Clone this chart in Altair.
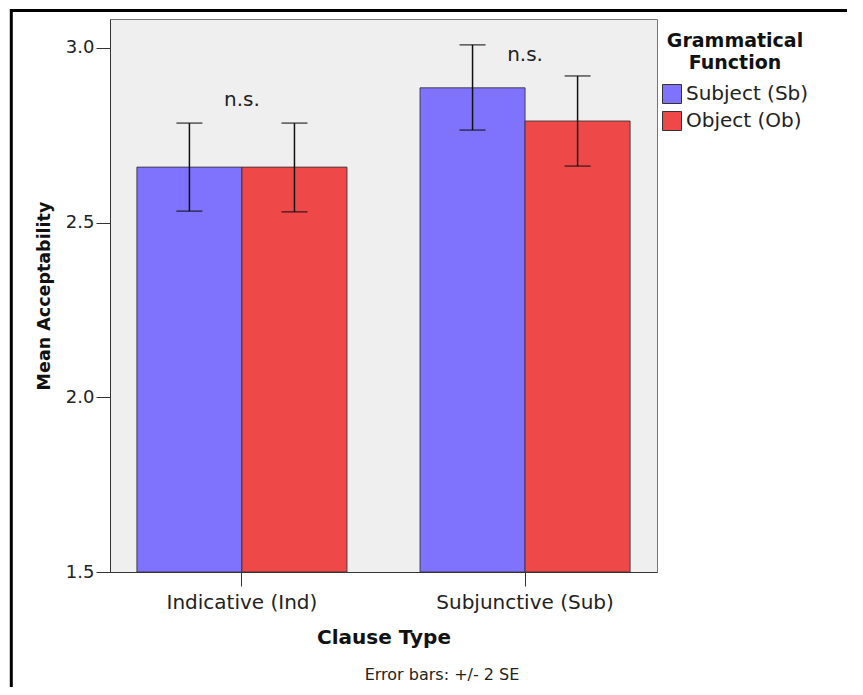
import altair as alt
import pandas as pd

# ---- data ----
clauses = ["Indicative (Ind)", "Subjunctive (Sub)"]
functions = ["Subject (Sb)", "Object (Ob)"]
bar_clause = ["Indicative (Ind)", "Indicative (Ind)", "Subjunctive (Sub)", "Subjunctive (Sub)"]
bar_function = ["Subject (Sb)", "Object (Ob)", "Subject (Sb)", "Object (Ob)"]
mean_values = [2.659, 2.659, 2.886, 2.791]
err_low = [2.533, 2.531, 2.765, 2.662]
err_high = [2.785, 2.785, 3.009, 2.920]
ns_labels = ["n.s.", "n.s."]
ns_y = [2.851, 2.980]
colors = ["#7f72fd", "#ef4848"]
y_ticks = [1.5, 2.0, 2.5, 3.0]
note_text = ["Error bars: +/- 2 SE"]

df = pd.DataFrame({
    "clause": bar_clause,
    "function": bar_function,
    "mean": mean_values,
    "low": err_low,
    "high": err_high,
})
ns_df = pd.DataFrame({"clause": clauses, "label": ns_labels, "y": ns_y})
frame_df = pd.DataFrame({"frame": ["border"]})
note_df = pd.DataFrame({"note": note_text})

FONT = "DejaVu Sans"

x_enc = alt.X(
    "clause:N",
    sort=clauses,
    scale=alt.Scale(paddingInner=0.258, paddingOuter=0.095),
    axis=alt.Axis(title="Clause Type", labelAngle=0),
)
x_off = alt.XOffset("function:N", sort=functions,
                    scale=alt.Scale(paddingInner=0, paddingOuter=0))
y_scale = alt.Scale(domain=[1.5, 3.083], nice=False, zero=False)
y_axis = alt.Axis(title="Mean Acceptability", values=y_ticks, format=".1f")

bars = alt.Chart(df).mark_bar(stroke="#333333", strokeWidth=1, strokeOpacity=0.85).encode(
    x=x_enc,
    xOffset=x_off,
    y=alt.Y("mean:Q", scale=y_scale, axis=y_axis),
    y2=alt.datum(1.5),
    fill=alt.Fill(
        "function:N",
        sort=functions,
        scale=alt.Scale(domain=functions, range=colors),
        legend=alt.Legend(
            title=["Grammatical", "Function"],
            orient="none",
            legendX=552,
            legendY=13,
            titleFont=FONT,
            titleFontSize=19,
            titleFontWeight="bold",
            titleColor="#111111",
            titleAnchor="middle",
            titleAlign="center",
            titleLineHeight=22,
            titlePadding=11,
            labelFont=FONT,
            labelFontSize=20,
            labelColor="#222222",
            labelOffset=4,
            symbolType="square",
            symbolSize=361,
            symbolStrokeColor="#333333",
            symbolStrokeWidth=1,
            symbolOpacity=1,
            rowPadding=3,
        ),
    ),
)

err_rule = alt.Chart(df).mark_rule(color="#111111", strokeWidth=1.5).encode(
    x=x_enc,
    xOffset=x_off,
    y=alt.Y("low:Q", scale=y_scale, axis=y_axis),
    y2="high:Q",
)
cap_low = alt.Chart(df).mark_tick(color="#111111", thickness=1.5, size=26, orient="horizontal").encode(
    x=x_enc,
    xOffset=x_off,
    y=alt.Y("low:Q", scale=y_scale, axis=y_axis),
)
cap_high = alt.Chart(df).mark_tick(color="#111111", thickness=1.5, size=26, orient="horizontal").encode(
    x=x_enc,
    xOffset=x_off,
    y=alt.Y("high:Q", scale=y_scale, axis=y_axis),
)
ns_text = alt.Chart(ns_df).mark_text(font=FONT, fontSize=20, color="#222222").encode(
    x=x_enc,
    y=alt.Y("y:Q", scale=y_scale, axis=y_axis),
    text="label:N",
)

# footnote below the axis title
note = alt.Chart(note_df).mark_text(
    font=FONT, fontSize=16, color="#222222", align="center", baseline="middle"
).encode(x=alt.value(332), y=alt.value(656), text="note:N")

# outer picture frame (top and left edges only, as in the reference crop)
top_border = alt.Chart(frame_df).mark_rule(color="#000000", strokeWidth=3).encode(
    x=alt.value(-99), x2=alt.value(760), y=alt.value(-8.5)
)
left_border = alt.Chart(frame_df).mark_rule(color="#000000", strokeWidth=3).encode(
    x=alt.value(-98.7), y=alt.value(-10), y2=alt.value(680)
)

chart = alt.layer(
    bars, err_rule, cap_low, cap_high, ns_text, note, top_border, left_border
).properties(
    width=547,
    height=553,
    autosize=alt.AutoSizeParams(type="none"),
    padding={"left": 102, "top": 11, "right": 190, "bottom": 115},
).configure_view(
    fill="#efefef", stroke="#777777", strokeWidth=1
).configure_axis(
    grid=False,
    labelFont=FONT,
    titleFont=FONT,
    labelColor="#222222",
    titleColor="#111111",
    tickColor="#333333",
    domainColor="#333333",
    tickSize=14,
    titleFontWeight="bold",
).configure_axisX(
    labelFontSize=20,
    labelPadding=6,
    titleFontSize=20,
    titlePadding=15,
).configure_axisY(
    labelFontSize=18,
    labelPadding=2,
    titleFontSize=17.5,
    titlePadding=12,
)

chart.save("out.html", embed_options={"renderer": "svg", "actions": False})
